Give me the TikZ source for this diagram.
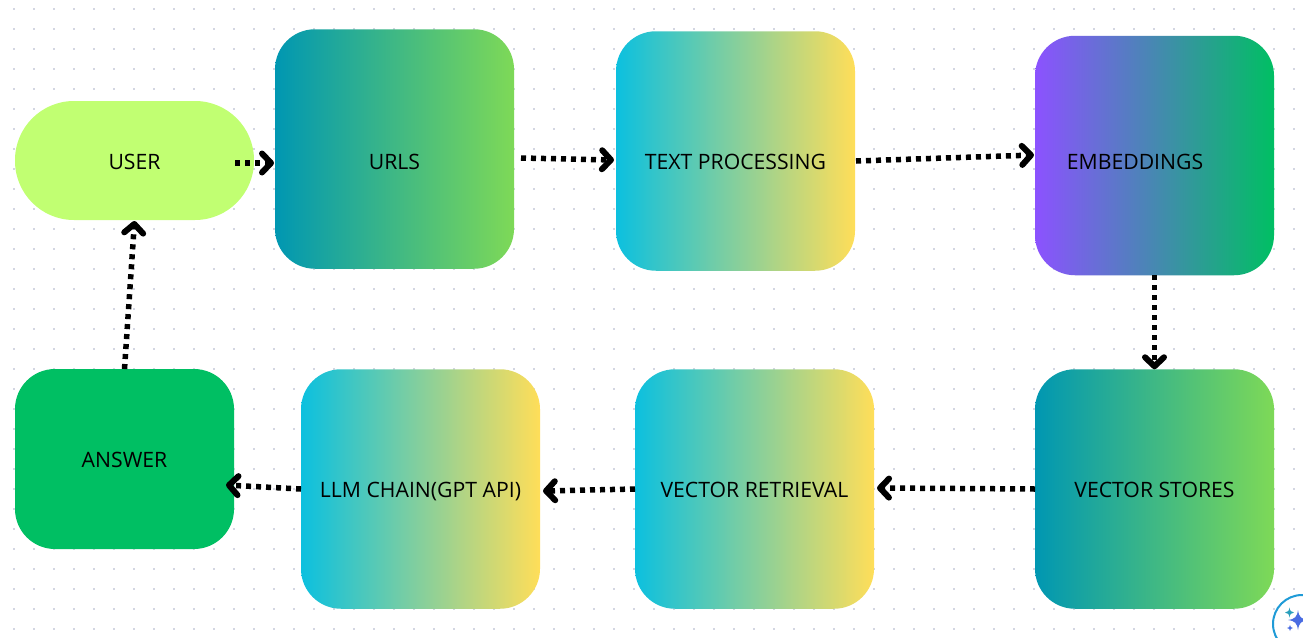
\documentclass[tikz,border=0pt]{standalone}
\usepackage{fontspec}
\setmainfont{Open Sans}
\usetikzlibrary{arrows.meta}
\definecolor{limefill}{HTML}{C1FF72}
\definecolor{greenfill}{HTML}{00BF63}
\definecolor{tealend}{HTML}{0097B2}
\definecolor{leafend}{HTML}{7ED957}
\definecolor{cyanend}{HTML}{0CC0DF}
\definecolor{yellowend}{HTML}{FFDE59}
\definecolor{violetend}{HTML}{8C52FF}
\definecolor{griddot}{HTML}{D3D6E2}
\definecolor{ringblue}{HTML}{1F9BD7}
\definecolor{starblue}{HTML}{4A6CE2}
\definecolor{starteal}{HTML}{2A9FBC}
\begin{document}
\begin{tikzpicture}[x=1pt,y=-1pt]
        \tikzset{
        lab/.style={inner sep=0pt, outer sep=0pt, font=\fontsize{21.2}{24}\selectfont, text=black, text height=17.3pt, text depth=0pt},
        box/.style={lab, rectangle, rounded corners=40pt, minimum width=239pt, minimum height=239.5pt},
        tealbox/.style={box, left color=tealend, right color=leafend},
        sunbox/.style={box, left color=cyanend, right color=yellowend},
        flow/.style={-{Straight Barb[length=9pt,width=19pt,round,line width=6pt]}, line width=5.5pt, dash pattern=on 5pt off 5pt, black}
        }
        \useasboundingbox (0,0) rectangle (1303,637);
        \fill[white] (0,0) rectangle (1303,637);
        % dotted page grid
        \foreach \i in {0,...,64}
          \foreach \j in {0,...,31}
            \fill[griddot] ({14+20*\i-1.4},{9+20*\j-1.4}) rectangle ++(2.8,2.8);

        \node[box, fill=limefill, rounded corners=59pt, minimum height=119pt] (user) at (134.5,160.5) {USER};
        \node[tealbox, label={[lab,yshift=-12pt]center:URLS}] (urls) at (394.5,149) {};
        \node[sunbox, label={[lab,yshift=-10pt]center:TEXT PROCESSING}] (text) at (735.5,151) {};
        \node[box, left color=violetend, right color=greenfill, label={[lab,xshift=-19.5pt,yshift=-5.5pt]center:EMBEDDINGS}] (emb) at (1154.5,155.5) {};
        \node[tealbox] (stores) at (1154.5,489) {VECTOR STORES};
        \node[sunbox] (retrieval) at (754.5,489) {VECTOR RETRIEVAL};
        \node[sunbox] (llm) at (420.5,489) {LLM CHAIN(GPT API)};
        \node[box, fill=greenfill, minimum width=219pt, minimum height=180pt] (answer) at (124.5,459) {ANSWER};

        \draw[flow] ([xshift=-19pt,yshift=-2.5pt]user.east) -- ([xshift=-1pt,yshift=-14pt]urls.west);
        \draw[flow] ([xshift=7pt,yshift=-9pt]urls.east) -- ([xshift=-2pt,yshift=-9pt]text.west);
        \draw[flow] ([xshift=1pt,yshift=-10pt]text.east) -- ([xshift=-1pt,yshift=0.5pt]emb.west);
        \draw[flow] (emb.south) -- (stores.north);
        \draw[flow] (stores.west) -- ([xshift=3pt,yshift=1pt]retrieval.east);
        \draw[flow] (retrieval.west) -- ([xshift=3pt,yshift=-2pt]llm.east);
        \draw[flow] (llm.west) -- ([xshift=-8pt,yshift=-26pt]answer.east);
        \draw[flow] (answer.north) -- ([yshift=-1pt]user.south);

        % assistant badge in the corner
        \begin{scope}
        \clip (0,0) rectangle (1303,637);
        \draw[ringblue, line width=2pt, fill=white] (1302,624) circle (29);
        \fill[starblue] (1298,610) .. controls (1299,617) and (1301,619) .. (1308,620) .. controls (1301,621) and (1299,623) .. (1298,630) .. controls (1297,623) and (1295,621) .. (1288,620) .. controls (1295,619) and (1297,617) .. (1298,610) -- cycle;
        \fill[starteal] (1289.5,607.5) .. controls (1290,611) and (1291,612) .. (1294,612.5) .. controls (1291,613) and (1290,614) .. (1289.5,617.5) .. controls (1289,614) and (1288,613) .. (1285,612.5) .. controls (1288,612) and (1289,611) .. (1289.5,607.5) -- cycle;
        \fill[starblue] (1290,625) .. controls (1290.3,627) and (1291,627.7) .. (1293,628) .. controls (1291,628.3) and (1290.3,629) .. (1290,631) .. controls (1289.7,629) and (1289,628.3) .. (1287,628) .. controls (1289,627.7) and (1289.7,627) .. (1290,625) -- cycle;
        \end{scope}
        \end{tikzpicture}
\end{document}
